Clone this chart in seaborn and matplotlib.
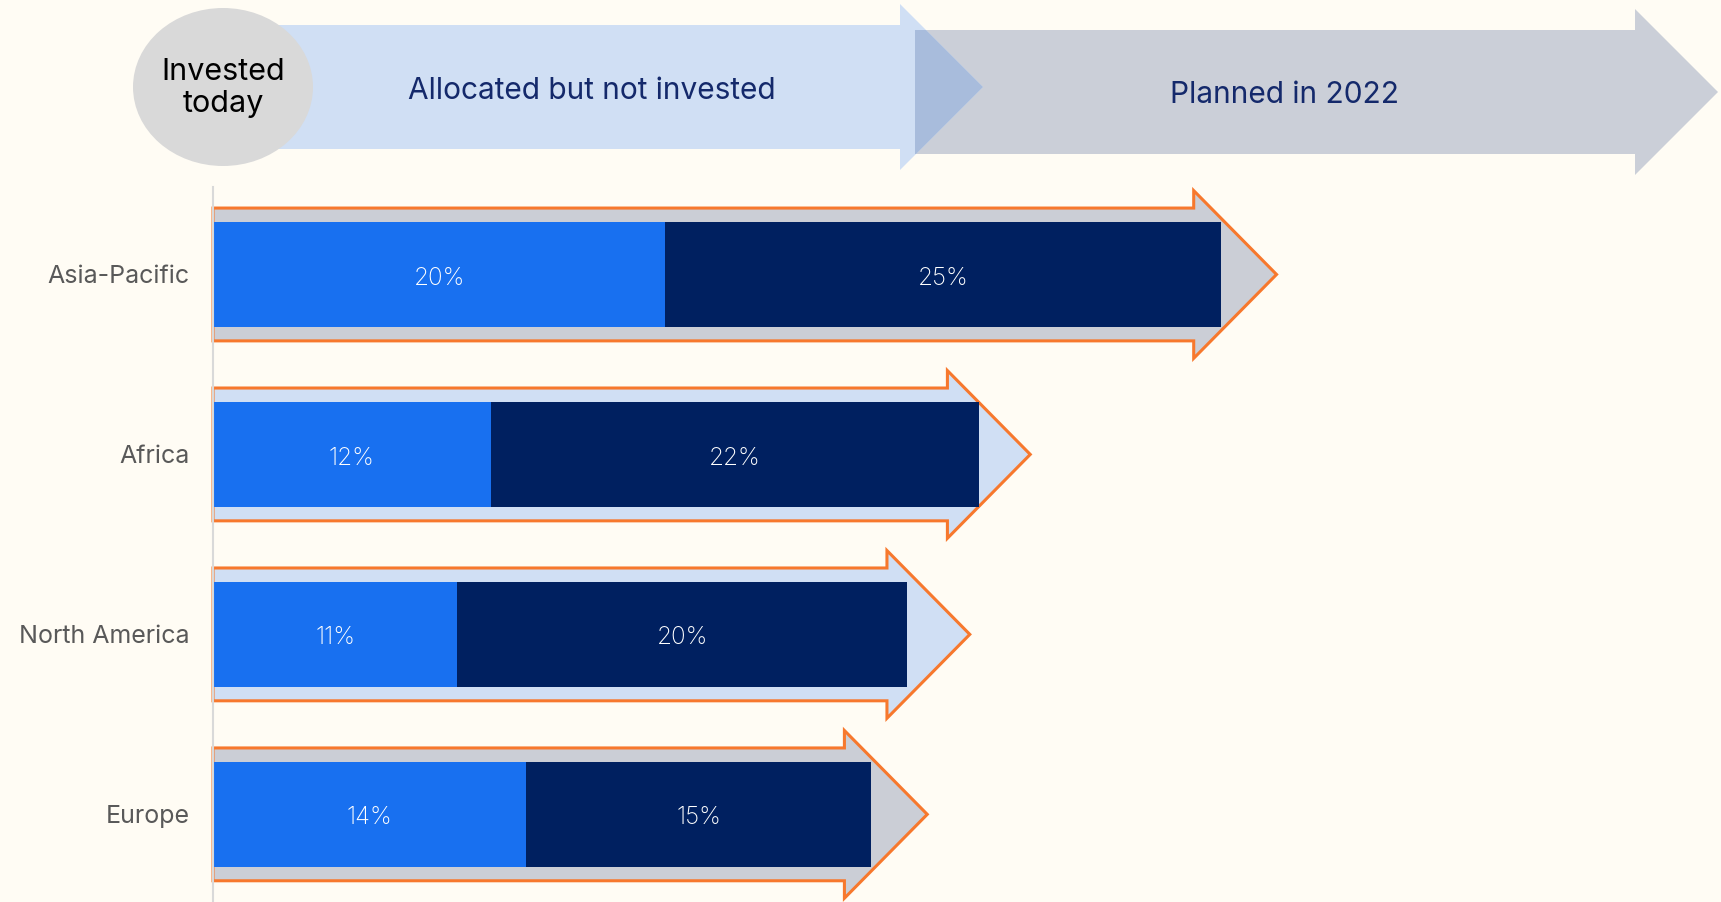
import matplotlib
matplotlib.use("Agg")
import matplotlib.pyplot as plt
import seaborn as sns
import pandas as pd
from matplotlib.patches import Polygon, Ellipse

# values (% of respondents)
regions = ["Asia-Pacific", "Africa", "North America", "Europe"]
invested = [20.2, 12.4, 10.9, 14.0]
allocated = [24.8, 21.8, 20.1, 15.4]
planned_tip = [47.5, 36.5, 33.8, 31.9]

header_labels = ["Invested\ntoday", "Allocated but not invested", "Planned in 2022"]

BG = "#fffcf4"
BLUE = "#1870f0"
NAVY = "#002060"
ORANGE = "#f7782d"
GRAY_ARROW = "#cbced6"
LIGHT_BLUE = "#d0dff4"
TEXT_NAVY = "#14296b"
arrow_colors = [GRAY_ARROW, LIGHT_BLUE, LIGHT_BLUE, GRAY_ARROW]

sns.set_theme(style="white")
plt.rcParams["font.family"] = ["Inter", "DejaVu Sans"]

df = pd.DataFrame({"region": regions, "invested": invested, "allocated": allocated})
df["total"] = df["invested"] + df["allocated"]

W, H = 1721, 902
fig = plt.figure(figsize=(W / 100, H / 100), dpi=100, facecolor=BG)
ax = fig.add_axes([213 / W, 0, 1 - 213 / W, (H - 187) / H])
ax.set_facecolor(BG)

# planned arrows behind the bars
head_len = 3.7
body_h = 0.369
head_h = 0.466
for i, (tip, col) in enumerate(zip(planned_tip, arrow_colors)):
    be = tip - head_len
    pts = [(0, i - body_h), (be, i - body_h), (be, i - head_h), (tip, i),
           (be, i + head_h), (be, i + body_h), (0, i + body_h)]
    ax.add_patch(Polygon(pts, closed=True, facecolor=col, edgecolor=ORANGE,
                         lw=2.2, zorder=0.5, clip_on=False))

sns.barplot(data=df, x="total", y="region", color=NAVY, width=0.58, orient="h",
            ax=ax, saturation=1, linewidth=0, zorder=1)
sns.barplot(data=df, x="invested", y="region", color=BLUE, width=0.58, orient="h",
            ax=ax, saturation=1, linewidth=0, zorder=2)

for i, row in df.iterrows():
    ax.text(row["invested"] / 2, i + 0.02, f"{round(row['invested'])}%", color="white",
            ha="center", va="center", fontsize=17.5, fontweight="light", zorder=3)
    ax.text(row["invested"] + row["allocated"] / 2, i + 0.02, f"{round(row['allocated'])}%",
            color="white", ha="center", va="center", fontsize=17.5, fontweight="light", zorder=3)

ax.set_xlim(0, 67.35)
ax.set_ylim(3.487, -0.486)
ax.set_xlabel("")
ax.set_ylabel("")
ax.set_xticks([])
for s in ["top", "right", "bottom"]:
    ax.spines[s].set_visible(False)
ax.spines["left"].set_color("#d9d9d9")
ax.spines["left"].set_linewidth(1.5)
ax.tick_params(axis="y", length=0, pad=17, labelsize=18, labelcolor="#595959")

# header band in pixel coordinates
hax = fig.add_axes([0, 0, 1, 1])
hax.set_xlim(0, W)
hax.set_ylim(H, 0)
hax.axis("off")
hax.patch.set_alpha(0)

gray_pts = [(915, 30), (1635, 30), (1635, 9), (1718, 92), (1635, 175), (1635, 154), (915, 154)]
blue_pts = [(274, 25), (900, 25), (900, 4), (983, 87), (900, 170), (900, 149), (274, 149)]
gray_arrow = Polygon(gray_pts, closed=True, facecolor="#cbcfd8", lw=0)
hax.add_patch(gray_arrow)
hax.add_patch(Polygon(blue_pts, closed=True, facecolor=LIGHT_BLUE, lw=0))
overlap = Polygon(blue_pts, closed=True, facecolor="#a8bcdc", lw=0)
hax.add_patch(overlap)
overlap.set_clip_path(gray_arrow)
hax.add_patch(Ellipse((223, 87), 180, 158, facecolor="#d9d9d9", lw=0))

hax.text(223, 88, header_labels[0], ha="center", va="center", fontsize=22,
         color="black", linespacing=1.2)
hax.text(592, 91, header_labels[1], ha="center", va="center", fontsize=21.5, color=TEXT_NAVY)
hax.text(1285, 95, header_labels[2], ha="center", va="center", fontsize=21.5, color=TEXT_NAVY)

fig.savefig("out.png", dpi=100, facecolor=BG)
